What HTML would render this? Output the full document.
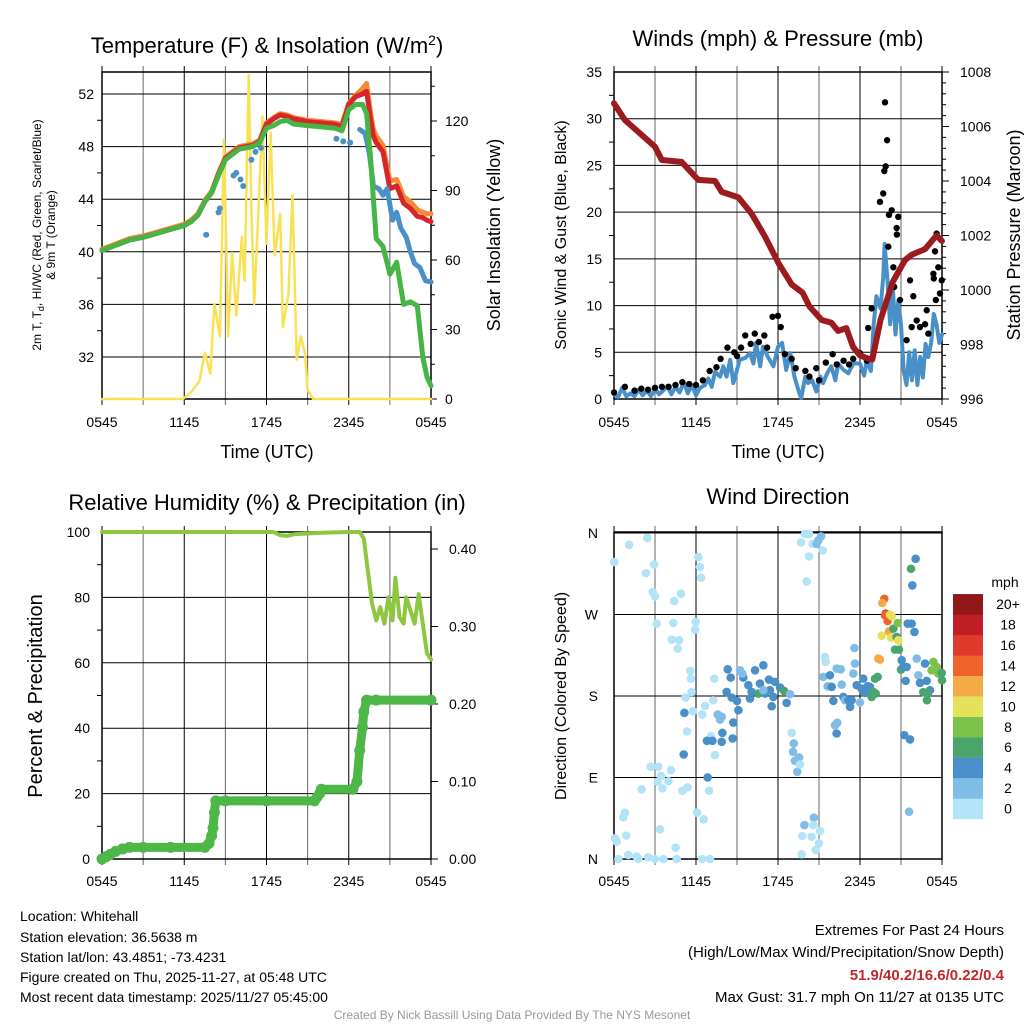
<!DOCTYPE html>
<html><head><meta charset="utf-8">
<style>
body{margin:0;background:#fff;}
svg{display:block;font-family:"Liberation Sans",sans-serif;}
</style></head>
<body>
<svg id="c" width="1024" height="1024" viewBox="0 0 1024 1024">
<text x="267" y="53" font-size="22" text-anchor="middle">Temperature (F) &amp; Insolation (W/m<tspan dy="-8" font-size="14">2</tspan><tspan dy="8">)</tspan></text>
<text x="778" y="46" font-size="22" text-anchor="middle">Winds (mph) &amp; Pressure (mb)</text>
<text x="267" y="510" font-size="22" text-anchor="middle">Relative Humidity (%) &amp; Precipitation (in)</text>
<text x="778" y="504" font-size="22" text-anchor="middle">Wind Direction</text>
<text x="267" y="458" font-size="18" text-anchor="middle">Time (UTC)</text>
<text x="778" y="458" font-size="18" text-anchor="middle">Time (UTC)</text>
<text transform="translate(41,235) rotate(-90)" font-size="12" text-anchor="middle">2m T, T<tspan font-size="9" dy="3">d</tspan><tspan dy="-3">, HI/WC (Red, Green, Scarlet/Blue)</tspan></text>
<text transform="translate(55,235) rotate(-90)" font-size="12" text-anchor="middle">&amp; 9m T (Orange)</text>
<text transform="translate(500,235) rotate(-90)" font-size="18" text-anchor="middle">Solar Insolation (Yellow)</text>
<text transform="translate(566,235) rotate(-90)" font-size="16" text-anchor="middle">Sonic Wind &amp; Gust (Blue, Black)</text>
<text transform="translate(1020,235) rotate(-90)" font-size="18" text-anchor="middle">Station Pressure (Maroon)</text>
<text transform="translate(42,696) rotate(-90)" font-size="20" text-anchor="middle">Percent &amp; Precipitation</text>
<text transform="translate(566,696) rotate(-90)" font-size="16" text-anchor="middle">Direction (Colored By Speed)</text>
<g font-size="14">
<text x="20" y="921">Location: Whitehall</text>
<text x="20" y="942">Station elevation: 36.5638 m</text>
<text x="20" y="962">Station lat/lon: 43.4851; -73.4231</text>
<text x="20" y="982">Figure created on Thu, 2025-11-27, at 05:48 UTC</text>
<text x="20" y="1002">Most recent data timestamp: 2025/11/27 05:45:00</text>
</g>
<g font-size="15" text-anchor="end">
<text x="1004" y="935">Extremes For Past 24 Hours</text>
<text x="1004" y="957">(High/Low/Max Wind/Precipitation/Snow Depth)</text>
<text x="1004" y="980" fill="#c0272d" font-weight="bold">51.9/40.2/16.6/0.22/0.4</text>
<text x="1004" y="1002">Max Gust: 31.7 mph On 11/27 at 0135 UTC</text>
</g>
<text x="512" y="1019" font-size="12" fill="#999" text-anchor="middle">Created By Nick Bassill Using Data Provided By The NYS Mesonet</text>
</svg>
<script>
// ---- Temperature panel data ----
const tempT=[0,1,2,3,4,5,6,6.5,7,7.5,8,8.5,9,9.5,10,10.5,11,11.5,12,12.5,13,13.5,14,15,16,17,17.5,18,18.5,19,19.3,19.6,19.8,20,20.5,21,21.5,22,22.5,23,23.4,23.7,24];
const greenV=[40.1,40.5,40.9,41.1,41.4,41.7,42.0,42.3,42.8,43.8,44.5,45.8,47.0,47.4,47.8,47.9,48.0,48.3,49.4,49.6,49.9,50.0,49.7,49.6,49.5,49.4,49.2,50.8,51.2,51.2,50.5,47,44,41,40.4,38.3,39.2,36.0,36.2,35.9,32,30.5,29.8];
const redV=[40.1,40.5,40.9,41.1,41.4,41.7,42.0,42.3,42.8,43.8,44.5,45.9,47.1,47.5,47.9,48.0,48.1,48.4,49.7,50.1,50.4,50.3,50.1,49.9,49.8,49.7,49.5,51.2,51.8,52.0,52.2,50.0,48.8,48.3,47.6,44.8,45.0,43.7,43.3,42.7,42.6,42.4,42.3];
const orangeV=[40.2,40.6,41.0,41.2,41.5,41.8,42.1,42.4,42.9,43.9,44.6,46.0,47.2,47.6,48.0,48.1,48.2,48.5,49.8,50.2,50.5,50.4,50.2,50.0,49.9,49.8,49.7,51.3,51.9,52.4,52.8,50.5,49.3,48.8,48.1,45.4,45.5,44.2,43.8,43.2,43.0,42.9,42.9];
const blueDotT=[7.6,8.5,8.6,9.6,9.8,10.1,10.3,10.9,11.2,11.6,17.1,17.6,18.1];
const blueDotV=[41.3,43.0,43.3,45.8,46.0,45.5,45.0,47.0,47.6,47.9,48.6,48.4,48.3];
const blueT=[18.8,19.2,19.5,19.8,20.2,20.5,20.8,21.2,21.5,21.8,22.2,22.5,22.8,23.2,23.6,24];
const blueV=[49.3,49.0,47.5,45,44.8,44.3,44.8,42.4,43.0,41.8,41.1,40.0,39.1,38.8,37.8,37.7];
const solarT=[0,5.9,6.5,7.1,7.5,7.9,8.2,8.6,8.9,9.2,9.5,9.8,10.2,10.4,10.7,10.9,11.1,11.4,11.7,12.0,12.3,12.6,13.0,13.2,13.6,13.9,14.2,14.5,14.8,15.0,15.4,24];
const solarV=[0,0,3,7.5,20,11,41,27,112,27,63,36,70,51,140,82,41,80,122,67,115,62,80,31,45,88,17,27,20,4,0,0];
const tempTicks=[32,36,40,44,48,52];
const solarTicks=[0,30,60,90,120];
const timeLabels=["0545","1145","1745","2345","0545"];
// ---- Wind panel data ----
const presT=[0,0.8,3.0,3.5,4.95,6.17,7.39,7.88,9.1,10.07,11.05,12.02,13,13.8,14.3,15.2,15.9,16.4,17.0,17.5,18.0,18.5,18.9,19.5,20.4,21.3,21.8,22.76,23.6,24];
const presV=[1006.85,1006.24,1005.26,1004.77,1004.7,1004.04,1004.0,1003.6,1003.4,1002.8,1001.96,1001.0,1000.2,999.9,999.4,998.9,998.8,998.5,998.6,997.9,997.6,997.5,997.45,998.9,1000.3,1001.1,1001.3,1001.5,1002.0,1001.8];
const windT=[0,0.3,0.6,0.9,1.2,1.5,1.8,2.1,2.4,2.7,3.0,3.3,3.6,3.9,4.2,4.5,4.8,5.1,5.4,5.7,6.0,6.3,6.66,6.9,7.15,7.4,7.76,8.0,8.24,8.5,8.73,9.0,9.2,9.6,9.95,10.2,10.4,10.7,10.9,11.3,11.66,12.0,12.3,12.6,12.9,13.2,13.5,13.7,14.0,14.2,14.5,14.8,15.1,15.3,15.6,15.9,16.2,16.4,16.8,17.15,17.5,18,18.3,18.5,18.8,19.0,19.2,19.5,19.7,19.8,20.0,20.2,20.4,20.6,20.8,21.0,21.2,21.4,21.6,21.8,22.0,22.2,22.4,22.6,22.8,23.0,23.2,23.4,23.6,23.8,24];
const windV=[0.5,0.2,1.2,0.3,0.6,0.3,1.0,0.4,0.9,0.3,1.1,0.5,0.9,1.4,0.5,1.3,0.7,1.8,0.6,1.5,0.4,1.2,1.5,2.2,1.3,2.9,2.4,3.5,2.4,4.2,1.7,3.1,4.2,4.4,4.9,3.8,6.0,3.5,5.6,4.4,3.5,5.6,6.0,3.1,4.9,2.4,0.9,0.1,2.4,1.7,2.0,0.8,2.4,1.7,2.75,3.5,2.0,3.8,3.1,2.75,3.8,3.8,2.5,4.1,3.0,8,11,9.7,13,16.6,13,8,12,6.9,10.5,8,3,1.5,5,2,5.2,1.5,4.5,2.3,5.9,4.5,6,9.1,8,6,6.9];
const gustT=[0,0.8,1.5,2,2.5,3,3.5,4,4.5,5,5.5,6,6.5,7,7.5,7.8,8.3,8.8,9,9.3,9.6,10,10.3,10.6,11,11.2,11.6,12,12.2,12.5,13,13.3,14,14.3,14.8,15,15.5,16,16.3,16.8,17.2,17.5,18,18.5,18.6,18.85,19.46,19.7,19.78,19.88,19.98,19.83,20.12,20.32,20.8,20.68,20.7,20.07,20.44,20.5,20.93,21.41,21.66,21.9,21.78,22.15,22.39,22.76,22.88,23.37,23.4,23.73,23.49,23.61,23.98,23.85,23.55,23.0];
const gustV=[0.7,1.3,0.9,1.1,1.0,1.2,1.3,1.3,1.5,1.8,1.6,1.5,2.0,3.0,3.4,4.3,5.5,5.0,4.6,5.5,6.8,5.9,7.0,6.1,6.8,5.5,8.8,8.9,7.7,4.8,4.3,3.3,3.0,2.4,3.3,2.0,3.9,4.8,3.7,4.1,3.7,4.3,4.9,4.1,7.6,9.7,21.1,22.0,24.4,24.9,27.7,31.75,19.7,20.2,19.5,18.3,17.6,16.3,14.1,12.0,10.6,6.3,12.7,11.0,7.7,8.4,7.7,8.0,9.5,13.4,12.9,14.1,15.8,17.7,12.7,11.3,10.6,7.0];
const windTicks=[0,5,10,15,20,25,30,35];
const presTicks=[996,998,1000,1002,1004,1006,1008];
// ---- RH panel data ----
const rhT=[0,5,10,12.5,13,13.5,14,16,18,18.8,19.1,19.4,19.7,20.0,20.3,20.6,20.9,21.2,21.4,21.7,22.0,22.2,22.5,22.8,23.1,23.4,23.7,24];
const rhV=[100,100,100,100,99,98.8,99.3,99.8,100,100,98,88,78,73,77,72,80,73,86,74,72,80,76,72,81,72,63,61];
const precT=[0,0.3,0.6,1,1.5,2,3,5,7.5,7.8,8.0,8.1,8.2,8.3,9,12,15.5,15.7,15.9,16,18.3,18.6,18.8,19.0,19.1,19.3,20,24];
const precV=[0,0.003,0.006,0.01,0.013,0.015,0.015,0.015,0.015,0.02,0.03,0.04,0.06,0.075,0.075,0.075,0.075,0.08,0.085,0.09,0.09,0.1,0.14,0.17,0.19,0.205,0.205,0.205];
const rhTicks=[0,20,40,60,80,100];
const precTicks=[0,0.1,0.2,0.3,0.4];
// ---- Wind direction data ----
const dirT=[0.02,1.1,2.44,2.93,2.34,2.83,3.0,4.41,4.9,3.12,4.34,5.98,5.93,4.22,4.76,4.66,6.17,6.29,6.37,5.59,5.63,5.68,5.24,7.34,5.78,6.66,6.46,7.27,5.34,7.39,7.1,5.15,5.1,7.88,7.59,7.76,8.73,9.1,8.61,8.24,6.8,7.2,7.88,8.68,7.93,2.68,3.24,4.17,3.44,3.2,3.98,3.54,2.02,5.0,5.39,6.85,6.95,6.07,6.56,0.8,0.68,0.9,0.07,0.2,3.37,4.51,0.32,1.05,1.66,2.51,3.61,4.59,6.46,7.02,1.78,3.0,
8.32,8.54,9.22,9.46,9.83,10.32,10.93,10.07,10.68,11.34,11.78,12.15,11.41,11.66,9.95,10.56,9.0,9.39,11.54,12.63,12.44,12.88,11.05,10.93,
13.0,13.15,13.1,13.37,13.24,13.54,13.41,13.61,13.98,14.27,13.68,14.54,14.83,15.15,14.95,15.27,14.27,14.1,13.93,14.63,14.59,13.78,14.46,15.07,15.0,14.76,13.73,
15.44,15.49,15.32,15.8,15.63,15.93,16.05,16.29,16.59,16.66,16.78,16.9,17.15,17.27,17.39,17.51,17.63,17.59,17.76,18.0,18.24,18.12,18.37,16.17,16.34,16.29,18.56,18.73,18.85,18.98,19.15,19.1,19.29,
19.78,19.63,19.88,19.83,20.02,20.2,20.32,19.59,20.12,20.27,19.34,19.46,20.44,20.68,20.8,20.56,20.76,20.85,21.05,21.0,21.49,21.78,21.98,22.07,21.73,21.83,21.24,21.66,21.59,21.17,21.41,21.34,22.15,22.27,22.39,22.76,22.88,23.12,22.63,22.95,22.9,23.37,23.49,23.61,23.73,23.85,23.24,24.0,23.98];
const dirD=[327.9,347,354.7,325.3,315.7,294.8,290,284.9,293,259.9,260.6,261.7,253.3,242.2,241.5,232.3,333.4,322.4,310.6,207.7,199.2,184.5,178.3,199.2,163.2,169.1,159.5,175.3,140.8,114.7,135.6,161.4,115.5,157,159.5,154,150.7,164.3,178.3,184.5,130.5,130.5,129.4,133.1,139.3,101.9,101.9,98.2,91.6,85.3,86,78,76.9,75.4,79.1,90.1,75.4,51.1,43.8,51.1,46,25.8,22.8,19.2,32.8,12.5,0,4.5,2.6,1.9,0,0,0,0,0,0,
209.5,200.3,208.4,200.3,191.9,208.4,213.9,184.5,193.7,198.1,195.6,189.3,186.4,179,177.2,182.7,174.6,204.8,168.7,172.4,185.6,182,182.7,186.4,
139.3,127.6,118.4,108.5,108.5,112.1,96.3,104.4,359,359,349.5,348,348,356.2,351.8,340.7,334.1,306.5,37.5,45.6,37.5,25.4,24.7,30.9,17.3,10,5.2,
223.1,217.6,201.1,202.9,190.8,190.1,174.6,210.3,209.5,192.6,179,175.3,175.3,168,175.3,204.8,215.8,233,191.9,172.8,199.2,188.2,183.4,147.8,150.4,138.6,190.8,190.1,179,184.5,182.7,199.2,201.1,
287.4,282.7,270.9,269.1,262.8,269.8,268,246.6,251.4,244.4,221.3,220.2,254.4,245.2,241.5,231.2,260.6,231.2,219.5,209.2,259.9,259.9,250.7,331.5,320.5,302.1,136.8,132,52.2,212.1,212.1,196.7,221.3,202.9,194.5,215.8,196.7,186.4,184.2,182.7,175.3,217.6,208.4,212.1,204.8,205.5,208.4,197.4,205.5];
const dirS=[1,1,1,1,1,1,1,1,1,1,1,1,1,1,1,1,1,1,1,1,1,1,1,1,1,1,1,1,1,1,1,5,5,3,3,3,5,5,5,5,5,5,5,5,5,1,1,1,1,1,1,1,1,1,1,5,1,1,1,1,1,1,1,1,1,1,1,1,1,1,1,1,1,1,1,1,
5,5,3,5,5,5,5,5,5,5,5,5,5,5,5,7,5,3,5,5,7,3,5,3,
1,3,3,3,3,3,3,1,1,1,1,1,3,3,3,1,1,1,3,3,1,1,1,1,1,1,1,
1,1,3,5,3,5,5,3,3,3,5,3,5,5,5,3,3,3,5,3,5,5,5,3,3,5,5,5,7,7,7,7,7,
15,13,17,15,15,11,11,11,13,11,13,13,7,7,11,7,9,7,5,7,5,5,5,5,7,5,5,5,3,5,5,5,3,3,5,5,5,5,7,7,7,9,9,9,9,9,9,7,7];
const dirLabels=["N","E","S","W","N"];
const cbColors=["#b3e3f7","#7fbde6","#4a90c8","#49a56c","#7bc24a","#e7e05a","#f6a947","#f0642b","#df3a2c","#bf1e24","#911719"];
const cbLabels=["0","2","4","6","8","10","12","14","16","18","20+"];

const NS="http://www.w3.org/2000/svg";
const svg=document.getElementById('c');
function mk(tag,attrs,parent){const e=document.createElementNS(NS,tag);for(const k in attrs)e.setAttribute(k,attrs[k]);(parent||svg).appendChild(e);return e;}
function txt(x,y,s,size,anchor,parent){const e=mk('text',{x:x,y:y,'font-size':size,'text-anchor':anchor},parent);e.textContent=s;return e;}
function scale(d0,d1,r0,r1){return v=>r0+(v-d0)/(d1-d0)*(r1-r0);}
function poly(xs,ys,fx,fy,color,w,name){let d='';for(let i=0;i<xs.length;i++){d+=(i?'L':'M')+fx(xs[i]).toFixed(1)+' '+fy(ys[i]).toFixed(1);}
 const p=mk('path',{d:d,fill:'none',stroke:color,'stroke-width':w,'stroke-linejoin':'round','stroke-linecap':'round'});
 
 
 return p;}
function dots(xs,ys,fx,fy,color,r,name){const g=mk('g',{});
 
 
 for(let i=0;i<xs.length;i++){const c=mk('circle',{cx:fx(xs[i]),cy:fy(ys[i]),r:r,fill:color},g);
 
 }
 return g;}
function frame(x0,x1,y0,y1,hLines,name){const g=mk('g',{stroke:'#000','stroke-width':1});
 
 
 for(let i=0;i<=8;i++){const x=x0+(x1-x0)*i/8;mk('line',{x1:x,x2:x,y1:y0-6,y2:y1+6,stroke:(i%2?'#666':'#000')},g);}
 hLines.forEach(y=>mk('line',{x1:x0,x2:x1,y1:y,y2:y},g));
 mk('rect',{x:x0,y:y0,width:x1-x0,height:y1-y0,fill:'none','stroke-width':1.5},g);
 return g;}
function xlabels(x0,x1,y){timeLabels.forEach((s,i)=>{const t=txt(x0+(x1-x0)*i/4,y,s,14,'middle');
 
 });}

// Temperature panel
(function(){const X0=102,X1=431,Y0=72,Y1=399;
 const fx=scale(0,24,X0,X1),fy=scale(32,52,357,94),fs=scale(0,120,399,121);
 frame(X0,X1,Y0,Y1,[94].concat(tempTicks.map(fy)),'temp-plot-frame');
 tempTicks.forEach(v=>{const t=txt(X0-8,fy(v)+5,v,14,'end');
 
 
 if(fy(v+2)>Y0)mk('line',{x1:X0-5,x2:X0,y1:fy(v+2),y2:fy(v+2),stroke:'#000'});});
 solarTicks.forEach(v=>{const t=txt(X1+14,fs(v)+5,v,14,'start');
 
 
 mk('line',{x1:X1,x2:X1+6,y1:fs(v),y2:fs(v),stroke:'#000'});if(fs(v+15)>Y0)mk('line',{x1:X1,x2:X1+4,y1:fs(v+15),y2:fs(v+15),stroke:'#000'});});
 xlabels(X0,X1,427);
 poly(solarT,solarV,fx,fs,'#f9e156',2.5,'solar-line');
 poly(tempT,orangeV,fx,fy,'#f68b33',5,'9m-temp-line');
 poly(tempT,redV,fx,fy,'#d7262b',5,'2m-temp-line');
 dots(blueDotT,blueDotV,fx,fy,'#4a90c8',3,'hiwc-dots');
 poly(blueT,blueV,fx,fy,'#4a90c8',5,'hiwc-line');
 poly(tempT,greenV,fx,fy,'#46b545',5,'dewpoint-line');
})();
// Wind panel
(function(){const X0=614,X1=942,Y0=72,Y1=399;
 const fx=scale(0,24,X0,X1),fy=scale(0,35,399,72),fp=scale(996,1008,399,72);
 frame(X0,X1,Y0,Y1,windTicks.map(fy),'wind-plot-frame');
 windTicks.forEach(v=>{const t=txt(X0-12,fy(v)+5,v,14,'end');
 
 
 if(fy(v+2.5)>Y0)mk('line',{x1:X0-5,x2:X0,y1:fy(v+2.5),y2:fy(v+2.5),stroke:'#000'});});
 presTicks.forEach(v=>{const t=txt(X1+18,fp(v)+5,v,14,'start');
 
 
 mk('line',{x1:X1,x2:X1+7,y1:fp(v),y2:fp(v),stroke:'#000'});
 for(let k=1;k<5;k++){if(fp(v+k*0.4)>Y0)mk('line',{x1:X1,x2:X1+4,y1:fp(v+k*0.4),y2:fp(v+k*0.4),stroke:'#000'});}});
 xlabels(X0,X1,427);
 poly(windT,windV,fx,fy,'#4a90c8',4,'sonic-wind-line');
 dots(gustT,gustV,fx,fy,'#000',3.2,'gust-dots');
 poly(presT,presV,fx,fp,'#9b1b1e',6,'pressure-line');
})();
// RH panel
(function(){const X0=102,X1=431,Y0=532,Y1=859;
 const fx=scale(0,24,X0,X1),fy=scale(0,100,859,532),fp=scale(0,0.4,859,549);
 frame(X0,X1,Y0,Y1,rhTicks.map(fy),'rh-plot-frame');
 rhTicks.forEach(v=>{const t=txt(X0-12,fy(v)+5,v,14,'end');
 
 
 if(v<100)mk('line',{x1:X0-5,x2:X0,y1:fy(v+10),y2:fy(v+10),stroke:'#000'});});
 precTicks.forEach(v=>{const t=txt(X1+18,fp(v)+5,v.toFixed(2),14,'start');
 
 
 mk('line',{x1:X1,x2:X1+7,y1:fp(v),y2:fp(v),stroke:'#000'});});
 xlabels(X0,X1,886);
 poly(rhT,rhV,fx,fy,'#8dc63f',4,'rh-line');
 poly(precT,precV,fx,fp,'#4db848',9,'precip-line');
 dots(precT,precV,fx,fp,'#4db848',5.5,'precip-dots');
})();
// Wind direction panel
(function(){const X0=614,X1=942,Y0=532,Y1=859;
 const fx=scale(0,24,X0,X1),fy=scale(0,360,859,533);
 frame(X0,X1,Y0,Y1,[0,90,180,270,360].map(fy),'winddir-plot-frame');
 dirLabels.forEach((s,i)=>{const t=txt(X0-16,fy(i*90)+5,s,14,'end');
 
 });
 xlabels(X0,X1,886);
 const g=mk('g',{});
 
 
 for(let i=0;i<dirT.length;i++){const bin=Math.min(10,Math.floor(dirS[i]/2));
 const c=mk('circle',{cx:fx(dirT[i]),cy:fy(dirD[i]),r:4.3,fill:cbColors[bin]},g);
 
 }
 const cb=mk('g',{});
 
 
 txt(1005,587,'mph',14,'middle',cb);
 for(let i=0;i<11;i++){const y=819-(i+1)*20.45;
 const r=mk('rect',{x:953,y:y,width:30,height:20.6,fill:cbColors[i]},cb);
 
 
 txt(1008,y+15,cbLabels[i],14,'middle',cb);}
})();
</script>
</body></html>
